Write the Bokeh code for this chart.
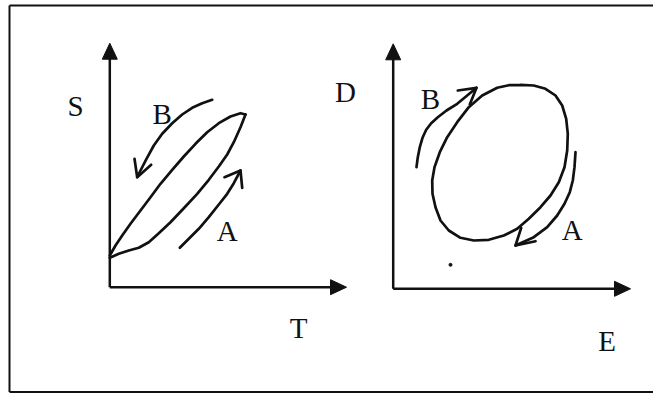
from bokeh.plotting import figure
from bokeh.models import Range1d
from bokeh.core.properties import value
from bokeh.embed import file_html
from bokeh.resources import INLINE

# ---- Left diagram (S vs T): narrow hysteresis lens ----
left_upper_x = [109.3, 115, 121.7, 130, 140, 150, 160, 171.7, 183.3, 195, 206.7, 218.3, 230, 240, 245]
left_upper_y = [255, 245, 235, 223.3, 210, 196.7, 183.3, 169.3, 156, 143.3, 131.7, 122.7, 116, 112.7, 114]
left_lower_x = [109.3, 118.3, 128.3, 138.3, 148.3, 158.3, 170, 183.3, 196.7, 208.3, 218.3, 226.7, 233.3, 240, 245]
left_lower_y = [257.3, 253.3, 250, 247.3, 241.7, 232.7, 221.7, 207.7, 193.3, 179.3, 166, 154, 141.7, 126.7, 114]

left_B_x = [211.7, 201.7, 191.7, 181.7, 171.7, 161.7, 153.3, 146, 140, 136.7]
left_B_y = [99.3, 102.7, 107.3, 114, 122.7, 133.3, 145, 158.3, 170, 176.7]
left_B_head_x = [[134, 136.7, 150.7]]
left_B_head_y = [[158.3, 176.7, 164.3]]

left_A_x = [179.3, 188.3, 198.3, 208.3, 218.3, 226.7, 233.3, 240]
left_A_y = [247.3, 238.3, 228.3, 216.7, 204, 193.3, 182.7, 170]
left_A_head_x = [[224, 240, 241.7]]
left_A_head_y = [[176.7, 170, 187.3]]

# ---- Right diagram (D vs E): elliptical loop ----
ell_x = [520, 533.3, 545, 555, 561.7, 565.7, 567.3, 566.7, 564, 558.3, 550, 540,
         528.3, 516.7, 503.3, 488.3, 473.3, 460, 448.3, 440, 435, 432, 431.7, 434,
         439.3, 446.7, 456.7, 468.3, 481.7, 496.7, 508.3, 520]
ell_y = [84.3, 85, 88.3, 95, 105, 118.3, 133.3, 150, 166.7, 181.7, 195, 206.7,
         218.3, 228.3, 235, 239.3, 240, 237.3, 230, 220, 206.7, 193.3, 180, 166.7,
         151.7, 136.7, 121.7, 106.7, 95, 87.3, 84.7, 84.3]

right_B_x = [416, 417.3, 419.3, 422, 425.7, 430.7, 437.3, 446, 456.7, 466.7, 476]
right_B_y = [166.7, 156.7, 146.7, 137.3, 129.3, 122.7, 116.7, 110, 103.3, 95, 87.3]
right_B_head_x = [[457.3, 476, 469.3]]
right_B_head_y = [[90, 87.3, 104]]

right_A_x = [575, 574, 572.3, 569.3, 564, 556.7, 546.7, 533.3, 515]
right_A_y = [151.7, 166.7, 180, 191.7, 203.3, 215, 226.7, 236.7, 245]
right_A_head_x = [[520.7, 515, 535]]
right_A_head_y = [[227.3, 245, 240.7]]

# ---- Axes (origin, top of y-axis, end of x-axis) ----
axis_origin_x = [109.3, 392.7]
axis_origin_y = [286.7, 288.3]
axis_top_y = [42.7, 43.3]
axis_right_x = [346, 630]

# ---- Labels ----
label_text = ["S", "T", "B", "A", "D", "E", "B", "A"]
label_x = [75, 298, 161.7, 226.7, 345, 606.7, 430, 571.7]
label_y = [105, 327, 113.3, 230, 91.7, 340, 98.3, 229.3]

W, H = 653, 393
p = figure(width=W, height=H, output_backend="svg", toolbar_location=None,
           x_range=Range1d(0, W), y_range=Range1d(H, 0),
           x_axis_type=None, y_axis_type=None, min_border=0,
           outline_line_color=None, background_fill_color="white",
           border_fill_color="white")
p.grid.visible = False

ink = "#111111"

# frame (left, top, bottom)
p.multi_line(xs=[[9, 9], [9, 653], [9, 653]],
             ys=[[5, 391.5], [5, 5], [391.5, 391.5]],
             line_color=ink, line_width=2)

# axes lines + filled arrowheads
ah = 16   # arrowhead length
hw = 7.5  # half width
for ox, oy, ty, rx in zip(axis_origin_x, axis_origin_y, axis_top_y, axis_right_x):
    p.line([ox, ox], [oy, ty + ah - 2], line_color=ink, line_width=2.5)
    p.line([ox, rx - ah + 2], [oy, oy], line_color=ink, line_width=2.5)
    p.patch([ox, ox - hw, ox + hw], [ty, ty + ah, ty + ah], fill_color=ink, line_color=ink)
    p.patch([rx, rx - ah, rx - ah], [oy, oy - hw, oy + hw], fill_color=ink, line_color=ink)

lw = 2.7
kw = dict(line_color=ink, line_width=lw, line_join="round", line_cap="round")
# left loop
p.line(left_upper_x, left_upper_y, **kw)
p.line(left_lower_x, left_lower_y, **kw)
# left arrows
p.line(left_B_x, left_B_y, **kw)
p.multi_line(left_B_head_x, left_B_head_y, **kw)
p.line(left_A_x, left_A_y, **kw)
p.multi_line(left_A_head_x, left_A_head_y, **kw)

# right loop and arrows
p.line(ell_x, ell_y, **kw)
p.line(right_B_x, right_B_y, **kw)
p.multi_line(right_B_head_x, right_B_head_y, **kw)
p.line(right_A_x, right_A_y, **kw)
p.multi_line(right_A_head_x, right_A_head_y, **kw)

# small speck
p.scatter([450], [264.3], size=3, color=ink)

p.text(x=label_x, y=label_y, text=label_text, text_font=value("Liberation Serif"),
       text_font_size="29px", text_align="center", text_baseline="middle",
       text_color=ink)

open("out.html", "w").write(file_html(p, INLINE))
